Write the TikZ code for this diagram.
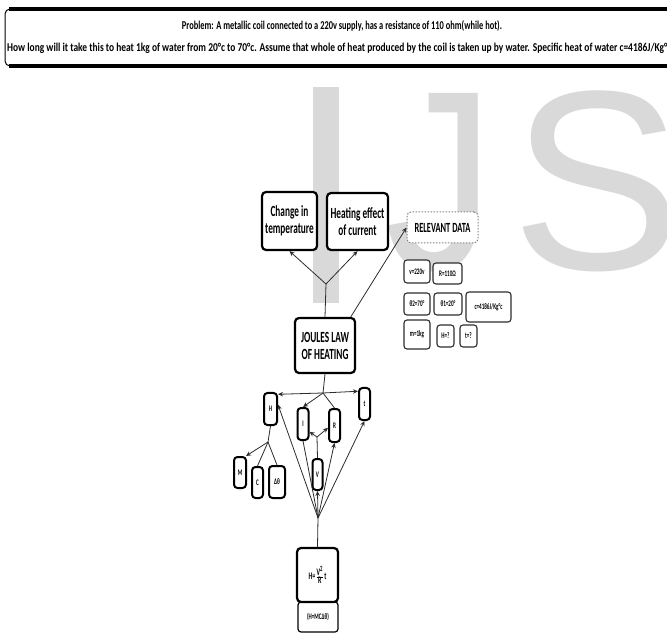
\documentclass[tikz,border=0pt]{standalone}
\usepackage{fontspec}
\usepackage{graphicx}
\usetikzlibrary{arrows.meta}
\newfontfamily\cf[FakeStretch=0.6]{Carlito}
\newfontfamily\wmfont{Liberation Sans}
\definecolor{wm}{RGB}{217,217,217}
\definecolor{ln}{RGB}{45,45,45}
\begin{document}
\begin{tikzpicture}[x=1pt,y=-1pt,
  box/.style={draw=black, line width=2.2pt, rounded corners=4pt, fill=white, inner sep=0pt, align=center, font=\cf\bfseries\fontsize{15.5}{17}\selectfont},
  letbox/.style={draw=black, line width=2pt, rounded corners=3.5pt, fill=white, inner sep=0pt, font=\cf\bfseries\fontsize{8.5}{9}\selectfont},
  dat/.style={draw=ln, line width=1.1pt, rounded corners=3pt, fill=white, inner sep=0pt, font=\cf\bfseries\fontsize{8.5}{10}\selectfont},
  con/.style={draw=ln, line width=0.8pt},
  arr/.style={con, -{Stealth[length=5pt,width=4.5pt]}},
  hdr/.style={inner sep=0pt, font=\cf\bfseries\fontsize{12}{13}\selectfont}
]
\useasboundingbox (0,0) rectangle (667,636);
\fill[white] (0,0) rectangle (667,636);
% watermark
\fill[wm] (313,87) rectangle (339,303);
\node[anchor=base west, inner sep=0pt, text=wm, font=\wmfont\fontsize{256}{256}\selectfont] (wj) at (385,270) {\scalebox{0.85}[1]{J}};
\node[anchor=base west, inner sep=0pt, text=wm, font=\wmfont\fontsize{256}{256}\selectfont] (ws) at (511,270) {S};
% header
\draw[line width=1pt, rounded corners=5pt] (690,9) -- (5,9) -- (5,66) -- (690,66);
\draw[line width=3.5pt] (9,9) -- (690,9);
\draw[line width=3.5pt] (9,66) -- (690,66);
\node[hdr, anchor=base] (h1) at (342,30) {\resizebox{320pt}{\height}{Problem: A metallic coil connected to a 220v supply, has a resistance of 110 ohm(while hot).}};
\node[hdr, anchor=base west] (h2) at (7,52) {\resizebox{664pt}{\height}{How long will it take this to heat 1kg of water from 20°c to 70°c. Assume that whole of heat produced by the coil is taken up by water. Specific heat of water c=4186J/Kg°c}};
% main boxes
\node[box, minimum width=55pt, minimum height=58pt] (chg) at (289.5,221) {Change in\\temperature};
\node[box, minimum width=61pt, minimum height=57pt] (hea) at (357.5,221.5) {Heating effect\\of current};
\node[box, draw=gray, line width=1pt, dash pattern=on 1.5pt off 1.5pt, minimum width=71pt, minimum height=31pt, font=\cf\bfseries\fontsize{14}{15}\selectfont] (rel) at (442.5,227.5) {RELEVANT DATA};
\node[box, minimum width=60pt, minimum height=55pt] (jl) at (325,345.5) {JOULES LAW\\OF HEATING};
% data
\node[dat, minimum width=26pt, minimum height=23pt] (d1) at (417,271.5) {v=220v};
\node[dat, minimum width=29pt, minimum height=21pt] (d2) at (447.5,273.5) {R=110Ω};
\node[dat, minimum width=26pt, minimum height=22pt] (d3) at (417,304) {θ2=70°};
\node[dat, minimum width=28pt, minimum height=22pt] (d4) at (448,304) {θ1=20°};
\node[dat, minimum width=45pt, minimum height=30pt] (d5) at (488.5,307) {c=4186J/Kg°c};
\node[dat, minimum width=26pt, minimum height=29pt] (d6) at (417,334.5) {m=1kg};
\node[dat, minimum width=17pt, minimum height=22pt] (d7) at (445.5,336) {H=?};
\node[dat, minimum width=17pt, minimum height=22pt] (d8) at (468.5,336) {t=?};
% letter nodes
\node[letbox, minimum width=13pt, minimum height=32pt] (H) at (270.5,409) {H};
\node[letbox, minimum width=11pt, minimum height=32pt] (I) at (303,424) {I};
\node[letbox, minimum width=11pt, minimum height=33pt] (R) at (334.5,425.5) {R};
\node[letbox, minimum width=11pt, minimum height=32pt] (t) at (364.5,404) {t};
\node[letbox, minimum width=12pt, minimum height=31pt] (M) at (240,472.5) {M};
\node[letbox, minimum width=11pt, minimum height=31pt] (C) at (257.5,482.5) {C};
\node[letbox, minimum width=16pt, minimum height=32pt] (dt) at (277,482) {Δθ};
\node[letbox, minimum width=10pt, minimum height=31pt] (V) at (317.5,474.5) {V};
% formula
\node[draw=black, line width=1.2pt, rounded corners=3pt, fill=white, inner sep=0pt, minimum width=40pt, minimum height=30pt, font=\cf\bfseries\fontsize{8.5}{9}\selectfont] (mc) at (318,617) {(H=MCΔθ)};
\node[box, minimum width=41pt, minimum height=54pt, font=\cf\bfseries\fontsize{10}{11}\selectfont] (f) at (317.5,575) {H=$\frac{\mbox{V}^{\mbox{\fontsize{8}{8}\selectfont 2}}}{\mbox{R}}$t};
% connectors
\coordinate (j1) at (326,284);
\draw[con] (jl.north) -- (j1);
\draw[arr] (j1) -- (chg.south);
\draw[arr] (j1) -- (hea.south);
\draw[arr] (jl.48) -- (rel.west);
\coordinate (j2) at (323,393);
\draw[con] (jl.south) -- (j2);
\draw[arr] (j2) -- (H.63);
\draw[arr] (j2) -- (t.117);
\draw[arr] (j2) -- (I.north);
\draw[con] (j2) -- (R.north);
\coordinate (j3) at (268,442);
\draw[con] (H.south) -- (j3);
\draw[arr] (j3) -- (M.70);
\draw[con] (j3) -- (C.north);
\draw[con] (j3) -- (dt.north);
\coordinate (j4) at (318,518);
\draw[con] (f.north) -- (j4);
\draw[arr] (j4) -- (V.south);
\draw[arr] (j4) -- (H.30);
\draw[arr] (j4) -- (R.south);
\draw[arr] (j4) -- (t.south);
\draw[con] (j4) -- (I.south);
\coordinate (j5) at (317,437);
\draw[con] (V.north) -- (j5);
\draw[arr] (j5) -- (I.-50);
\draw[arr] (j5) -- (R.200);
\end{tikzpicture}
\end{document}
